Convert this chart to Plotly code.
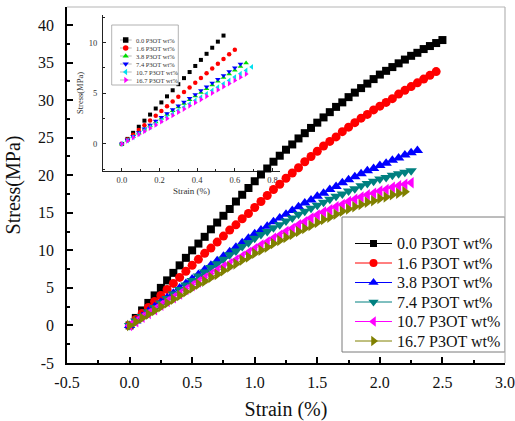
import plotly.graph_objects as go

# ---------------- data ----------------
LABELS = ["0.0 P3OT wt%", "1.6 P3OT wt%", "3.8 P3OT wt%",
          "7.4 P3OT wt%", "10.7 P3OT wt%", "16.7 P3OT wt%"]

# strain grid of the full tensile curves (%)
STRAIN = [0.00, 0.05, 0.10, 0.15, 0.20, 0.25, 0.30, 0.35, 0.40, 0.45,
          0.50, 0.55, 0.60, 0.65, 0.70, 0.75, 0.80, 0.85, 0.90, 0.95,
          1.00, 1.05, 1.10, 1.15, 1.20, 1.25, 1.30, 1.35, 1.40, 1.45,
          1.50, 1.55, 1.60, 1.65, 1.70, 1.75, 1.80, 1.85, 1.90, 1.95,
          2.00, 2.05, 2.10, 2.15, 2.20, 2.25, 2.30, 2.35, 2.40, 2.45,
          2.50]

# stress (MPa)
STRESS_0_0 = [0.0, 1.0, 2.0, 3.0, 4.0, 5.0, 6.0, 7.0, 8.0, 9.0,
              10.0, 10.9, 11.8, 12.8, 13.7, 14.6, 15.5, 16.5, 17.4, 18.3,
              19.2, 20.1, 20.9, 21.8, 22.6, 23.4, 24.1, 24.9, 25.6, 26.3,
              27.0, 27.7, 28.4, 29.1, 29.7, 30.4, 31.0, 31.6, 32.2, 32.8,
              33.4, 33.9, 34.4, 34.9, 35.4, 35.9, 36.3, 36.8, 37.2, 37.6,
              38.0]
STRESS_1_6 = [0.0, 0.8, 1.6, 2.4, 3.2, 4.0, 4.8, 5.6, 6.4, 7.2,
              8.0, 8.8, 9.6, 10.3, 11.1, 11.9, 12.7, 13.4, 14.2, 14.9,
              15.7, 16.5, 17.3, 18.1, 18.8, 19.6, 20.3, 21.0, 21.8, 22.5,
              23.2, 23.9, 24.5, 25.1, 25.8, 26.4, 27.0, 27.6, 28.1, 28.7,
              29.2, 29.7, 30.2, 30.8, 31.3, 31.8, 32.3, 32.8, 33.3, 33.8]
STRESS_3_8 = [0.0, 0.6, 1.2, 1.9, 2.5, 3.1, 3.7, 4.3, 5.0, 5.6,
              6.2, 6.8, 7.4, 8.0, 8.6, 9.2, 9.8, 10.4, 11.0, 11.6,
              12.2, 12.7, 13.2, 13.8, 14.3, 14.8, 15.3, 15.8, 16.3, 16.7,
              17.2, 17.6, 18.1, 18.5, 19.0, 19.4, 19.8, 20.2, 20.6, 20.9,
              21.3, 21.6, 22.0, 22.3, 22.7, 23.0, 23.3]
STRESS_7_4 = [0.0, 0.6, 1.2, 1.8, 2.4, 3.0, 3.6, 4.2, 4.8, 5.4,
              6.0, 6.6, 7.1, 7.7, 8.2, 8.8, 9.4, 9.9, 10.5, 11.0,
              11.6, 12.1, 12.5, 13.0, 13.4, 13.9, 14.3, 14.8, 15.2, 15.6,
              16.0, 16.4, 16.8, 17.2, 17.5, 17.9, 18.2, 18.6, 18.9, 19.2,
              19.5, 19.7, 20.0, 20.2, 20.4, 20.6]
STRESS_10_7 = [0.0, 0.5, 1.1, 1.6, 2.1, 2.7, 3.2, 3.7, 4.2, 4.8,
               5.3, 5.8, 6.3, 6.8, 7.3, 7.8, 8.2, 8.7, 9.2, 9.7,
               10.2, 10.7, 11.1, 11.6, 12.0, 12.5, 12.9, 13.4, 13.8, 14.3,
               14.7, 15.1, 15.4, 15.8, 16.1, 16.5, 16.8, 17.1, 17.4, 17.6,
               17.9, 18.1, 18.4, 18.6, 18.8, 19.0]
STRESS_16_7 = [0.0, 0.5, 1.0, 1.5, 2.0, 2.5, 3.0, 3.5, 4.0, 4.5,
               5.0, 5.5, 5.9, 6.4, 6.8, 7.3, 7.8, 8.2, 8.7, 9.1,
               9.6, 10.0, 10.4, 10.9, 11.3, 11.7, 12.1, 12.5, 12.9, 13.3,
               13.7, 14.1, 14.4, 14.8, 15.2, 15.5, 15.8, 16.1, 16.4, 16.6,
               16.9, 17.1, 17.4, 17.6, 17.8]

# initial (linear) region shown in the inset
INSET_STRAIN = [0.00, 0.03, 0.06, 0.09, 0.12, 0.15, 0.18, 0.21, 0.24, 0.27,
                0.30, 0.33, 0.36, 0.39, 0.42, 0.45, 0.48, 0.51, 0.54, 0.57,
                0.60, 0.63, 0.66, 0.69]
INSET_0_0 = [0.0, 0.5, 1.1, 1.7, 2.3, 2.9, 3.5, 4.1, 4.7, 5.3,
             5.9, 6.5, 7.1, 7.7, 8.3, 8.9, 9.5, 10.1, 10.7]
INSET_1_6 = [0.0, 0.45, 0.92, 1.38, 1.85, 2.32, 2.78, 3.25, 3.72, 4.18,
             4.65, 5.12, 5.58, 6.05, 6.52, 6.98, 7.45, 7.92, 8.38, 8.85,
             9.3]
INSET_3_8 = [0.0, 0.36, 0.73, 1.09, 1.45, 1.82, 2.18, 2.55, 2.91, 3.27,
             3.64, 4.0, 4.36, 4.73, 5.09, 5.45, 5.82, 6.18, 6.55, 6.91,
             7.27, 7.64, 8.0]
INSET_7_4 = [0.0, 0.38, 0.75, 1.13, 1.5, 1.88, 2.26, 2.63, 3.01, 3.39,
             3.76, 4.14, 4.51, 4.89, 5.27, 5.64, 6.02, 6.39, 6.77, 7.15,
             7.52, 7.9]
INSET_10_7 = [0.0, 0.33, 0.66, 0.99, 1.32, 1.65, 1.98, 2.31, 2.64, 2.97,
              3.3, 3.63, 3.96, 4.29, 4.62, 4.95, 5.28, 5.61, 5.94, 6.27,
              6.6, 6.93, 7.26, 7.6]
INSET_16_7 = [0.0, 0.31, 0.63, 0.94, 1.25, 1.57, 1.88, 2.2, 2.51, 2.82,
              3.14, 3.45, 3.76, 4.08, 4.39, 4.7, 5.02, 5.33, 5.65, 5.96,
              6.27, 6.59, 6.9]

MAIN_SERIES = [STRESS_0_0, STRESS_1_6, STRESS_3_8, STRESS_7_4, STRESS_10_7, STRESS_16_7]
INSET_SERIES = [INSET_0_0, INSET_1_6, INSET_3_8, INSET_7_4, INSET_10_7, INSET_16_7]

# tick positions and labels
X_TICKS = [-0.5, 0.0, 0.5, 1.0, 1.5, 2.0, 2.5, 3.0]
X_TICK_TEXT = ["-0.5", "0.0", "0.5", "1.0", "1.5", "2.0", "2.5", "3.0"]
Y_TICKS = [-5, 0, 5, 10, 15, 20, 25, 30, 35, 40]
Y_TICK_TEXT = ["-5", "0", "5", "10", "15", "20", "25", "30", "35", "40"]
INSET_X_TICKS = [0.0, 0.2, 0.4, 0.6, 0.8]
INSET_X_TICK_TEXT = ["0.0", "0.2", "0.4", "0.6", "0.8"]
INSET_Y_TICKS = [0, 5, 10]
INSET_Y_TICK_TEXT = ["0", "5", "10"]

# ---------------- styles ----------------
SYMBOLS = ["square", "circle", "triangle-up", "triangle-down", "triangle-left", "triangle-right"]
MAIN_COLORS = ["#000000", "#ff0000", "#0000ff", "#008080", "#ff00ff", "#808000"]
MAIN_SIZES = [8, 9, 10, 10, 10, 10]
INSET_COLORS = ["#000000", "#ff0000", "#00dd00", "#0000ff", "#00e0f0", "#ff00ff"]
INSET_SIZES = [4, 4.5, 5, 5, 5, 5]

SERIF = "Liberation Serif"
W, H = 515, 421
ML, MR, MT, MB = 67, 10, 7, 58

fig = go.Figure()

# inset (drawn first so the main curves sit above it)
for ys, col, sym, sz in zip(INSET_SERIES, INSET_COLORS, SYMBOLS, INSET_SIZES):
    fig.add_trace(go.Scatter(
        x=INSET_STRAIN[:len(ys)], y=ys, mode="markers",
        marker=dict(symbol=sym, size=sz, color=col, line=dict(width=0)),
        xaxis="x", yaxis="y", showlegend=False, hoverinfo="skip"))

# main stress-strain curves
for ys, col, sym, sz in zip(MAIN_SERIES, MAIN_COLORS, SYMBOLS, MAIN_SIZES):
    fig.add_trace(go.Scatter(
        x=STRAIN[:len(ys)], y=ys, mode="lines+markers",
        line=dict(color=col, width=1),
        marker=dict(symbol=sym, size=sz, color=col, line=dict(width=0)),
        xaxis="x2", yaxis="y2", showlegend=False, hoverinfo="skip"))

# legends, laid out in a pixel-like overlay coordinate system
annotations = []
for i, (lab, col, sym, sz) in enumerate(zip(LABELS, MAIN_COLORS, SYMBOLS, MAIN_SIZES)):
    row = 243.5 + 19.5 * i
    fig.add_trace(go.Scatter(x=[355, 392], y=[row, row], mode="lines",
                             line=dict(color=col, width=1), xaxis="x3", yaxis="y3",
                             showlegend=False, hoverinfo="skip"))
    fig.add_trace(go.Scatter(x=[373.5], y=[row], mode="markers",
                             marker=dict(symbol=sym, size=sz - 1, color=col, line=dict(width=0)),
                             xaxis="x3", yaxis="y3", showlegend=False, hoverinfo="skip"))
    annotations.append(dict(x=395, y=row, xref="x3", yref="y3", text=lab,
                            showarrow=False, xanchor="left", yanchor="middle",
                            font=dict(family=SERIF, size=16, color="#111")))

for i, (lab, col, sym) in enumerate(zip(LABELS, INSET_COLORS, SYMBOLS)):
    row = 40 + 8 * i
    fig.add_trace(go.Scatter(x=[120, 131.7], y=[row, row], mode="lines",
                             line=dict(color="#888", width=0.6), xaxis="x3", yaxis="y3",
                             showlegend=False, hoverinfo="skip"))
    fig.add_trace(go.Scatter(x=[125.7], y=[row], mode="markers",
                             marker=dict(symbol=sym, size=5.5, color=col, line=dict(width=0)),
                             xaxis="x3", yaxis="y3", showlegend=False, hoverinfo="skip"))
    annotations.append(dict(x=133.5, y=row, xref="x3", yref="y3", text=lab,
                            showarrow=False, xanchor="left", yanchor="middle",
                            font=dict(family=SERIF, size=6.5, color="#333")))

shapes = [
    # top and right frame lines
    dict(type="line", xref="paper", yref="paper", x0=0, x1=1, y0=1, y1=1,
         line=dict(color="#b5b5b5", width=1.2)),
    dict(type="line", xref="paper", yref="paper", x0=1, x1=1, y0=0, y1=1,
         line=dict(color="#b5b5b5", width=1.2)),
    # legend boxes
    dict(type="rect", xref="x3", yref="y3", x0=342, x1=505, y0=217, y1=352,
         line=dict(color="#7a7a7a", width=1), fillcolor="white", layer="below"),
    dict(type="rect", xref="x3", yref="y3", x0=111.7, x1=178.3, y0=25, y1=85,
         line=dict(color="#a0a0a0", width=0.8), fillcolor="white", layer="below"),
]

main_axis = dict(showline=True, linecolor="black", linewidth=1.5, ticks="inside",
                 ticklen=6, tickwidth=1.5, tickcolor="black", showgrid=False,
                 zeroline=False, tickfont=dict(family=SERIF, size=16, color="#111"))
inset_axis = dict(showline=True, linecolor="#222", linewidth=1, ticks="inside",
                  ticklen=3, tickwidth=1, tickcolor="#222", showgrid=False,
                  zeroline=False, tickfont=dict(family=SERIF, size=8.5, color="#333"))

fig.update_layout(
    width=W, height=H,
    margin=dict(l=ML, r=MR, t=MT, b=MB, pad=0),
    font=dict(family=SERIF, color="#111"),
    paper_bgcolor="white", plot_bgcolor="rgba(0,0,0,0)",
    showlegend=False,
    xaxis=dict(inset_axis, domain=[0.0822, 0.4863], anchor="y", range=[-0.1, 0.84],
               tickmode="array", tickvals=INSET_X_TICKS, ticktext=INSET_X_TICK_TEXT,
               ticklabelstandoff=1,
               minor=dict(ticks="inside", ticklen=2, dtick=0.1, tickcolor="#222"),
               title=dict(text="Strain (%)", standoff=3,
                          font=dict(family=SERIF, size=9, color="#333")),
               automargin=False),
    yaxis=dict(inset_axis, domain=[0.5393, 0.9775], anchor="x", range=[-2.67, 12.73],
               tickmode="array", tickvals=INSET_Y_TICKS, ticktext=INSET_Y_TICK_TEXT,
               ticklabelstandoff=3,
               minor=dict(ticks="inside", ticklen=2, dtick=2.5, tickcolor="#222"),
               title=dict(text="Stress(MPa)", standoff=3,
                          font=dict(family=SERIF, size=8.5, color="#333")),
               automargin=False),
    xaxis2=dict(main_axis, domain=[0, 1], anchor="y2", range=[-0.5, 3.0],
                tickmode="array", tickvals=X_TICKS, ticktext=X_TICK_TEXT,
                ticklabelstandoff=4,
                minor=dict(ticks="inside", ticklen=3, dtick=0.25, tickcolor="black"),
                title=dict(text="Strain (%)", standoff=12,
                           font=dict(family=SERIF, size=20, color="#111")),
                automargin=False),
    yaxis2=dict(main_axis, domain=[0, 1], anchor="x2", range=[-5, 42.4],
                tickmode="array", tickvals=Y_TICKS, ticktext=Y_TICK_TEXT,
                ticklabelstandoff=8,
                minor=dict(ticks="inside", ticklen=3, dtick=2.5, tickcolor="black"),
                title=dict(text="Stress(MPa)", standoff=12,
                           font=dict(family=SERIF, size=20, color="#111")),
                automargin=False),
    xaxis3=dict(domain=[0, 1], anchor="y3", range=[ML, W - MR], visible=False,
                fixedrange=True),
    yaxis3=dict(domain=[0, 1], anchor="x3", range=[H - MB, MT], visible=False,
                fixedrange=True),
    shapes=shapes,
    annotations=annotations,
)

fig.write_html("out.html")
